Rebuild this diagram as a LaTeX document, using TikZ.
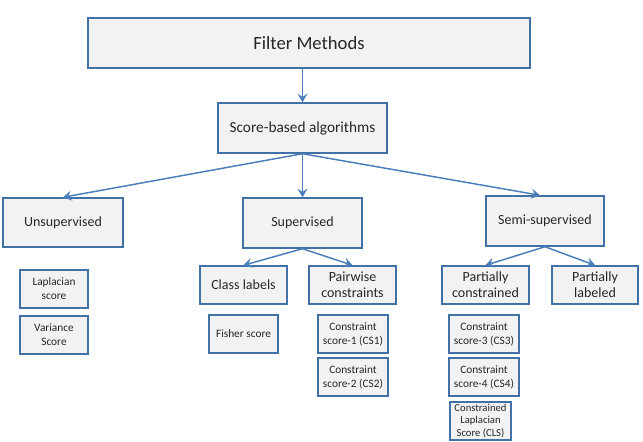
\documentclass[tikz,border=0pt]{standalone}
\usepackage{fontspec}
\setmainfont{Carlito}
\usepackage{tikz}
\usetikzlibrary{arrows.meta}

\definecolor{boxline}{RGB}{65,113,165}
\definecolor{boxfill}{RGB}{242,242,242}
\definecolor{arrowblue}{RGB}{74,126,187}

\tikzset{
  box/.style={draw=boxline, fill=boxfill, line width=1.1pt, inner sep=1pt, align=center, text=black!85},
  link/.style={draw=arrowblue, line width=1.1pt, -{Stealth[length=6.5pt,width=7.5pt,inset=2.5pt]}},
}

\begin{document}
\begin{tikzpicture}[x=0.75pt,y=0.75pt,yscale=-1,xscale=1]
	\useasboundingbox (0,0) rectangle (643,442);

	% top levels
	\node [box, minimum width=331.5pt, minimum height=37.5pt, font=\fontsize{14}{16}\selectfont] (filter) at (309,43) {Filter Methods};
	\node [box, minimum width=126.75pt, minimum height=37.5pt, font=\fontsize{11.5}{13}\selectfont] (score) at (302.5,128) {Score-based algorithms};

	% learning settings
	\node [box, minimum width=90pt, minimum height=36.75pt, font=\fontsize{10.5}{12}\selectfont] (unsup) at (63,222.5) {Unsupervised};
	\node [box, minimum width=89.25pt, minimum height=37.5pt, font=\fontsize{10.5}{12}\selectfont] (sup) at (302.5,223) {Supervised};
	\node [box, minimum width=88.5pt, minimum height=37.5pt, font=\fontsize{10.5}{12}\selectfont] (semi) at (545,221) {Semi-supervised};

	% kinds of supervision
	\node [box, minimum width=65.25pt, minimum height=28.5pt, font=\fontsize{10.5}{12}\selectfont] (classlab) at (243.5,285) {Class labels};
	\node [box, minimum width=65.25pt, minimum height=28.5pt, font=\fontsize{10.5}{12}\selectfont] (pairwise) at (352.5,285) {Pairwise\\constraints};
	\node [box, minimum width=65.25pt, minimum height=28.5pt, font=\fontsize{10.5}{12}\selectfont] (partcons) at (485.5,285) {Partially\\constrained};
	\node [box, minimum width=64.5pt, minimum height=28.5pt, font=\fontsize{10.5}{12}\selectfont] (partlab) at (595,285) {Partially\\labeled};

	% scores
	\node [box, minimum width=51pt, minimum height=28.5pt, font=\fontsize{8.5}{10.5}\selectfont] (laplace) at (54,289) {Laplacian\\score};
	\node [box, minimum width=51pt, minimum height=28.5pt, font=\fontsize{8.5}{10.5}\selectfont] (variance) at (54,335) {Variance\\Score};
	\node [box, minimum width=51.75pt, minimum height=28.5pt, font=\fontsize{8.5}{10.5}\selectfont] (fisher) at (243.5,334) {Fisher score};
	\node [box, minimum width=52.5pt, minimum height=28.5pt, font=\fontsize{8.5}{10.5}\selectfont] (csone) at (353,334) {Constraint\\score-1 (CS1)};
	\node [box, minimum width=52.5pt, minimum height=28.5pt, font=\fontsize{8.5}{10.5}\selectfont] (cstwo) at (353,377) {Constraint\\score-2 (CS2)};
	\node [box, minimum width=52.5pt, minimum height=28.5pt, font=\fontsize{8.5}{10.5}\selectfont] (csthree) at (484,334) {Constraint\\score-3 (CS3)};
	\node [box, minimum width=52.5pt, minimum height=28.5pt, font=\fontsize{8.5}{10.5}\selectfont] (csfour) at (484,377) {Constraint\\score-4 (CS4)};
	\node [box, minimum width=45.75pt, minimum height=28.5pt, inner sep=0.3pt, font=\fontsize{8}{9.3}\selectfont] (cls) at (480.5,421) {Constrained\\Laplacian\\Score (CLS)};

	% arrows
	\draw [link] (filter.south -| score.north) -- (score.north);
	\draw [link] (score.south) -- (unsup.north);
	\draw [link] (score.south) -- (sup.north);
	\draw [link] (score.south) -- ([xshift=-5*0.75pt]semi.north);
	\draw [link] (sup.south) -- (classlab.north);
	\draw [link] (sup.south) -- (pairwise.north);
	\draw [link] (semi.south) -- (partcons.north);
	\draw [link] (semi.south) -- (partlab.north);
\end{tikzpicture}
\end{document}
